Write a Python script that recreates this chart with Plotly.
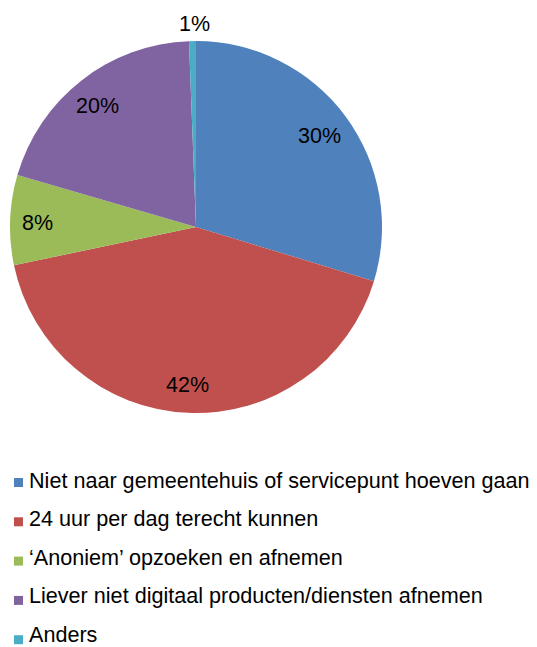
import math
import plotly.graph_objects as go

labels = [
    "Niet naar gemeentehuis of servicepunt hoeven gaan",
    "24 uur per dag terecht kunnen",
    "‘Anoniem’ opzoeken en afnemen",
    "Liever niet digitaal producten/diensten afnemen",
    "Anders",
]
values = [29.7, 42.0, 7.8, 19.9, 0.6]
colors = ["#4F81BD", "#C0504D", "#9BBB59", "#8064A2", "#4BACC6"]

W, H = 537, 647
FONT = "Arial, Liberation Sans, sans-serif"

# pie geometry (figure pixels)
CX, CY, R = 196, 227, 186
dom_x = [(CX - R) / W, (CX + R) / W]
dom_y = [1 - (CY + R) / H, 1 - (CY - R) / H]

fig = go.Figure(go.Pie(
    labels=labels,
    values=values,
    sort=False,
    direction="clockwise",
    rotation=0,
    marker=dict(colors=colors, line=dict(width=0)),
    textinfo="none",
    domain=dict(x=dom_x, y=dom_y),
    hoverinfo="label+percent",
    showlegend=False,
))

# data labels along each slice's mid angle
total = sum(values)
cum = 0.0
for v in values:
    frac = v / total
    mid = (cum + frac / 2) * 2 * math.pi
    cum += frac
    inside = frac > 0.03
    rf = 0.84 if inside else 1.1
    px = CX + rf * R * math.sin(mid)
    py = CY - rf * R * math.cos(mid)
    fig.add_annotation(
        x=px / W, y=1 - py / H, xref="paper", yref="paper",
        text=f"{round(frac * 100)}%", showarrow=False,
        xshift=-2 if inside else 2, yshift=-2,
        font=dict(family=FONT, size=21.5, color="#000000"),
        xanchor="center", yanchor="middle",
    )

# legend (swatch + label), one row per category
SW_Y0, SW_DY = 482.5, 39.3
TXT_Y0, TXT_DY = 480.0, 38.5
SW_X0, SW = 14, 9
TXT_X = 27
for i, (lab, col) in enumerate(zip(labels, colors)):
    ys = SW_Y0 + i * SW_DY
    yt = TXT_Y0 + i * TXT_DY
    fig.add_shape(
        type="rect", xref="paper", yref="paper",
        x0=SW_X0 / W, x1=(SW_X0 + SW) / W,
        y0=1 - (ys + SW / 2) / H, y1=1 - (ys - SW / 2) / H,
        fillcolor=col, line=dict(width=0),
    )
    fig.add_annotation(
        x=TXT_X / W, y=1 - yt / H, xref="paper", yref="paper",
        text=lab, showarrow=False,
        xanchor="left", yanchor="middle",
        font=dict(family=FONT, size=21.6, color="#000000"),
    )

fig.update_layout(
    width=W, height=H,
    margin=dict(l=0, r=0, t=0, b=0, autoexpand=False),
    paper_bgcolor="white",
    plot_bgcolor="white",
    font=dict(family=FONT, color="#000000"),
    showlegend=False,
)

fig.write_html(
    "out.html",
    config={"displayModeBar": False},
    post_script="document.body.style.margin='0px';document.body.style.overflow='hidden';",
)
